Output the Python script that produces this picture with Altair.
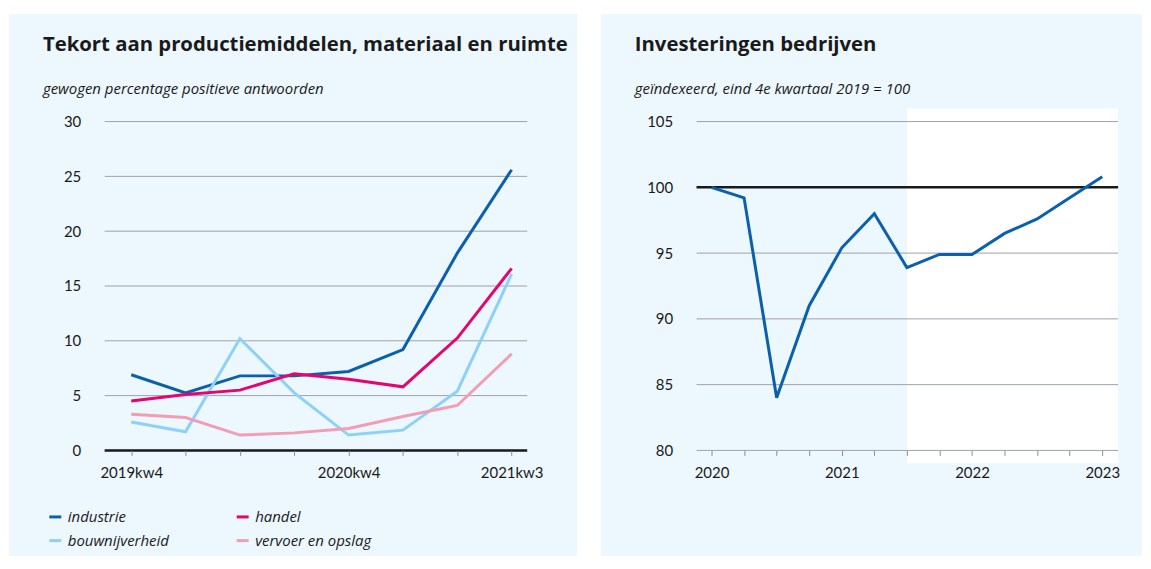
import altair as alt
import pandas as pd
import json

# ---------------- data: left chart ----------------
QUARTERS = ["2019kw4", "2020kw1", "2020kw2", "2020kw3", "2020kw4", "2021kw1", "2021kw2", "2021kw3"]
SHOWN_QUARTERS = ["2019kw4", "2020kw4", "2021kw3"]
SERIES = ["industrie", "bouwnijverheid", "handel", "vervoer en opslag"]
INDUSTRIE = [6.9, 5.25, 6.8, 6.8, 7.2, 9.2, 18.0, 25.6]
BOUWNIJVERHEID = [2.6, 1.7, 10.2, 5.25, 1.4, 1.85, 5.4, 16.1]
HANDEL = [4.5, 5.1, 5.5, 7.0, 6.5, 5.8, 10.25, 16.6]
VERVOER = [3.3, 3.0, 1.4, 1.6, 2.0, 3.1, 4.1, 8.8]
SERIES_COLORS = ["#0b60ad", "#8ed1f8", "#e3066f", "#f39db4"]
LEFT_Y_TICKS = [0, 5, 10, 15, 20, 25, 30]
LEFT_TITLE = "Tekort aan productiemiddelen, materiaal en ruimte"
LEFT_SUBTITLE = "gewogen percentage positieve antwoorden"

# ---------------- data: right chart ----------------
PERIODS = ["2019kw4", "2020kw1", "2020kw2", "2020kw3", "2020kw4", "2021kw1", "2021kw2",
           "2021kw3", "2021kw4", "2022kw1", "2022kw2", "2022kw3", "2022kw4"]
YEAR_LABELS = ["2020", "", "", "", "2021", "", "", "", "2022", "", "", "", "2023"]
INVESTERINGEN = [100, 99.2, 84.0, 91.0, 95.4, 98.0, 93.9, 94.9, 94.9, 96.5, 97.6, 99.2, 100.8]
FORECAST_FROM = "2021kw2"
RIGHT_Y_TICKS = [80, 85, 90, 95, 100, 105]
RIGHT_TITLE = "Investeringen bedrijven"
RIGHT_SUBTITLE = "geïndexeerd, eind 4e kwartaal 2019 = 100"

# ---------------- style ----------------
FONT = "Lato"
TITLE_FONT = "Open Sans"
PANEL_BG = "#ecf7fe"
GRID = "#9ea3a8"
TEXT = "#1a1a1a"
W_L, W_R, H = 424, 423, 330

left_rows = []
for name, vals in zip(SERIES, [INDUSTRIE, BOUWNIJVERHEID, HANDEL, VERVOER]):
    for i, (q, v) in enumerate(zip(QUARTERS, vals)):
        left_rows.append({"serie": name, "kwartaal": q, "idx": i, "value": v})
left_df = pd.DataFrame(left_rows)

right_df = pd.DataFrame({"periode": PERIODS, "idx": list(range(len(PERIODS))), "value": INVESTERINGEN})

one = pd.DataFrame({"k": [0]})


def text_layer(txt, x, y, size, weight="normal", style="normal"):
    return alt.Chart(pd.DataFrame({"t": [txt]})).mark_text(
        align="left", baseline="alphabetic", font=TITLE_FONT, fontSize=size,
        fontWeight=weight, fontStyle=style, color=TEXT
    ).encode(x=alt.value(x), y=alt.value(y), text="t:N")


def x_enc(n, labels, scale):
    return alt.X("idx:Q", scale=scale, title=None,
                 axis=alt.Axis(values=list(range(n)), labelExpr=json.dumps(labels) + "[datum.value]",
                               domain=False, ticks=True, tickSize=5, tickColor="#8a8d91", grid=False,
                               labelPadding=10, labelFontSize=15, labelColor=TEXT, labelFont=FONT,
                               labelOverlap=False, labelFlush=False, zindex=1))


def y_enc(ticks, scale):
    return alt.Y("value:Q", scale=scale, title=None,
                 axis=alt.Axis(values=ticks, domain=False, ticks=False, grid=False, labelPadding=24,
                               labelFontSize=15, labelColor=TEXT, labelFont=FONT, zindex=1))


# ---------------- left chart ----------------
lx_scale = alt.Scale(domain=[-0.489, len(QUARTERS) - 1 + 0.286], nice=False, zero=False)
ly_scale = alt.Scale(domain=[LEFT_Y_TICKS[0], LEFT_Y_TICKS[-1]], nice=False, zero=False)
left_labels = [q if q in SHOWN_QUARTERS else "" for q in QUARTERS]
LX = x_enc(len(QUARTERS), left_labels, lx_scale)
LY = y_enc(LEFT_Y_TICKS, ly_scale)

l_bg = alt.Chart(one).mark_rect(color=PANEL_BG).encode(
    x=alt.value(-96), x2=alt.value(W_L + 50), y=alt.value(-108), y2=alt.value(H + 106))

l_grid = alt.Chart(pd.DataFrame({"value": LEFT_Y_TICKS})).mark_rule(color=GRID, strokeWidth=1).encode(
    y=LY, x=alt.value(0), x2=alt.value(W_L))

l_base = alt.Chart(pd.DataFrame({"value": [0]})).mark_rule(color=TEXT, strokeWidth=2.5).encode(
    y=LY, x=alt.value(0), x2=alt.value(W_L))

l_lines = alt.Chart(left_df).mark_line(strokeWidth=3).encode(
    x=LX,
    y=LY,
    color=alt.Color("serie:N", scale=alt.Scale(domain=SERIES, range=SERIES_COLORS),
                    legend=alt.Legend(title=None, orient="none", legendX=-57, legendY=389, columns=2,
                                      columnPadding=61, rowPadding=8, symbolType="stroke", symbolSize=144,
                                      symbolStrokeWidth=3, labelFontSize=15, labelFontStyle="italic",
                                      labelFont=TITLE_FONT, labelColor=TEXT, labelOffset=5, padding=0,
                                      labelLimit=300)),
    order=alt.Order("idx:Q"),
)

l_title = text_layer(LEFT_TITLE, -62, -71, 20.4, weight="bold")
l_sub = text_layer(LEFT_SUBTITLE, -62, -28, 15, style="italic")

left = alt.layer(l_bg, l_grid, l_base, l_lines, l_title, l_sub).properties(width=W_L, height=H)

# ---------------- right chart ----------------
rx_scale = alt.Scale(domain=[-0.459, len(PERIODS) - 1 + 0.486], nice=False, zero=False)
ry_scale = alt.Scale(domain=[RIGHT_Y_TICKS[0], RIGHT_Y_TICKS[-1]], nice=False, zero=False)
RX = x_enc(len(PERIODS), YEAR_LABELS, rx_scale)
RY = y_enc(RIGHT_Y_TICKS, ry_scale)

r_bg = alt.Chart(one).mark_rect(color=PANEL_BG).encode(
    x=alt.value(-96), x2=alt.value(W_R + 24), y=alt.value(-108), y2=alt.value(H + 106))

r_white = alt.Chart(pd.DataFrame({"idx": [PERIODS.index(FORECAST_FROM)]})).mark_rect(color="white").encode(
    x=RX, x2=alt.value(W_R), y=alt.value(-13), y2=alt.value(H + 13))

r_grid = alt.Chart(pd.DataFrame({"value": RIGHT_Y_TICKS})).mark_rule(color=GRID, strokeWidth=1).encode(
    y=RY, x=alt.value(0), x2=alt.value(W_R))

r_base = alt.Chart(pd.DataFrame({"value": [100]})).mark_rule(color=TEXT, strokeWidth=2.5).encode(
    y=RY, x=alt.value(0), x2=alt.value(W_R))

r_line = alt.Chart(right_df).mark_line(strokeWidth=3, color=SERIES_COLORS[0]).encode(
    x=RX,
    y=RY,
    order=alt.Order("idx:Q"),
)

r_title = text_layer(RIGHT_TITLE, -62, -71, 20.4, weight="bold")
r_sub = text_layer(RIGHT_SUBTITLE, -62, -28, 15, style="italic")

right = alt.layer(r_bg, r_white, r_grid, r_base, r_line, r_title, r_sub).properties(width=W_R, height=H)

chart = alt.hconcat(left, right, spacing=22).resolve_scale(
    x="independent", y="independent", color="independent"
).resolve_legend(color="independent").properties(
    padding={"left": 0, "top": 4, "right": 0, "bottom": 0}
).configure(background="white", font=FONT).configure_view(stroke="transparent")

chart.save("out.html", embed_options={"renderer": "svg", "actions": False})
